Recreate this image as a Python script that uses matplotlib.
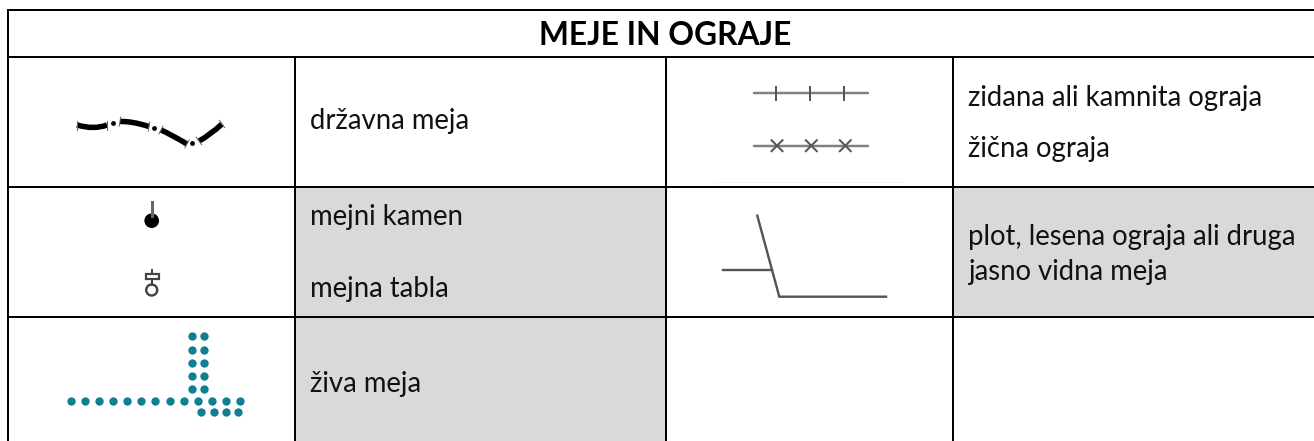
#!/usr/bin/env python3
"""Legend table: MEJE IN OGRAJE."""

import matplotlib

matplotlib.use("Agg")
import matplotlib.pyplot as plt
from matplotlib.patches import Circle, PathPatch, Rectangle
from matplotlib.path import Path
from matplotlib.ticker import NullLocator

WIDTH, HEIGHT = 1314, 441
PX = 0.72  # one pixel in points at dpi 100

TITLE = "MEJE IN OGRAJE"
COL_X = [8, 295, 666, 953, WIDTH]
ROW_Y = [10, 57, 187, 317, HEIGHT]
GREY_CELLS = [(1, 1), (1, 2), (3, 1)]  # column, row below the header

# text, x, baseline y
LABELS = [
    ("državna meja", 310, 129),
    ("zidana ali kamnita ograja", 968, 106),
    ("žična ograja", 968, 157.5),
    ("mejni kamen", 310, 225),
    ("mejna tabla", 310, 297),
    ("plot, lesena ograja ali druga", 968, 244.5),
    ("jasno vidna meja", 968, 280),
    ("živa meja", 310, 392),
]

# drzavna meja
BORDER_SEGMENTS = [
    ([77, 93, 107], [125, 127.5, 125]),
    ([120, 133, 149], [121.5, 122.5, 126.5]),
    ([161, 173, 187], [130, 136, 144]),
    ([199, 210, 222], [141, 134, 124]),
]
BORDER_DOTS_X = [112.7, 154.3, 192.3]
BORDER_DOTS_Y = [122.7, 128, 142.7]

# ograje
WALL_Y = 93.3
WIRE_Y = 145.7
FENCE_X0, FENCE_X1 = 754, 868
WALL_TICKS = [776.3, 810.3, 844.3]
WIRE_CROSSES = [777, 811.3, 845.3]
PLOT_X = [757.3, 779.3, 886]
PLOT_Y = [215.7, 296.7, 296.7]
PLOT_BRANCH_X = [722.7, 771.7]
PLOT_BRANCH_Y = [269.7, 269.7]

# ziva meja
HEDGE_ROW1_X = [71, 85, 99, 113.3, 127.3, 141.3, 155.3, 169.7, 184, 198, 212, 226.3, 240.3]
HEDGE_ROW1_Y = 401
HEDGE_ROW2_X = [201.3, 213.7, 226, 238.3]
HEDGE_ROW2_Y = 412
HEDGE_COL_Y = [336, 349.7, 363, 376.3, 389.3]
HEDGE_COL_X = [191.7, 203.7]

INK = "#111111"
LINE_GREY = "#555555"
TEAL = "#0f7f93"
CELL_GREY = "#d9d9d9"

plt.rcParams["font.family"] = ["Lato", "DejaVu Sans"]

fig = plt.figure(figsize=(WIDTH / 100, HEIGHT / 100), dpi=100)
ax = fig.add_axes([0, 0, 1, 1])
ax.set_xlim(0, WIDTH)
ax.set_ylim(HEIGHT, 0)
ax.xaxis.set_major_locator(NullLocator())
ax.yaxis.set_major_locator(NullLocator())
for spine in ax.spines.values():
    spine.set_visible(False)

# cells and rules, the table runs off the right and bottom of the picture
for col, row in GREY_CELLS:
    ax.add_patch(
        Rectangle(
            (COL_X[col], ROW_Y[row + 1]),
            COL_X[col + 1] - COL_X[col],
            ROW_Y[row + 2] - ROW_Y[row + 1],
            facecolor=CELL_GREY,
            edgecolor="none",
        )
    )
for y in ROW_Y[:-1]:
    ax.plot([COL_X[0], WIDTH], [y, y], color="black", lw=2 * PX, solid_capstyle="projecting")
for i, x in enumerate(COL_X[:-1]):
    top = ROW_Y[0] if i == 0 else ROW_Y[1]
    ax.plot([x, x], [top, HEIGHT], color="black", lw=2 * PX, solid_capstyle="projecting")

# text
ax.text(665.5, 45, TITLE, ha="center", va="baseline", fontsize=22.9, fontweight="bold", color="black")
for text, x, y in LABELS:
    ax.text(x, y, text, ha="left", va="baseline", fontsize=19.8, color=INK)

# border symbol: thick bowed pieces with small flared ends
for xs, ys in BORDER_SEGMENTS:
    ctrl = (2 * xs[1] - (xs[0] + xs[2]) / 2, 2 * ys[1] - (ys[0] + ys[2]) / 2)
    path = Path([(xs[0], ys[0]), ctrl, (xs[2], ys[2])], [Path.MOVETO, Path.CURVE3, Path.CURVE3])
    ax.add_patch(PathPatch(path, facecolor="none", edgecolor="black", lw=5.5 * PX, capstyle="butt"))
    dx, dy = xs[2] - xs[0], ys[2] - ys[0]
    norm = (dx * dx + dy * dy) ** 0.5
    nx, ny = -dy / norm * 4.5, dx / norm * 4.5
    for x, y in ((xs[0], ys[0]), (xs[2], ys[2])):
        ax.plot([x - nx, x + nx], [y - ny, y + ny], color="#666666", lw=1 * PX)
ax.scatter(BORDER_DOTS_X, BORDER_DOTS_Y, s=12, color="black", linewidths=0)

# stone and board
ax.plot([151.7, 151.7], [202.3, 216], color="#666666", lw=3 * PX)
ax.add_patch(Circle((151.7, 220.7), 7.3, facecolor="black", edgecolor="none"))
ax.plot([151.7, 151.7], [270, 273.5], color="#444444", lw=2 * PX)
ax.plot([151.7, 151.7], [279, 284.5], color="#444444", lw=2 * PX)
ax.add_patch(Rectangle((145.5, 273.5), 13.5, 5.5, facecolor="white", edgecolor="#444444", lw=2.2 * PX))
ax.add_patch(Circle((151.7, 290), 5.5, facecolor="white", edgecolor="#444444", lw=2.4 * PX))

# fences
for y in (WALL_Y, WIRE_Y):
    ax.plot([FENCE_X0, FENCE_X1], [y, y], color="#808080", lw=2.5 * PX, solid_capstyle="round")
for x in WALL_TICKS:
    ax.plot([x, x], [WALL_Y - 6.5, WALL_Y + 6.5], color="#555555", lw=2 * PX)
for x in WIRE_CROSSES:
    ax.plot([x - 5.5, x + 5.5], [WIRE_Y - 5.5, WIRE_Y + 5.5], color="#555555", lw=2 * PX)
    ax.plot([x - 5.5, x + 5.5], [WIRE_Y + 5.5, WIRE_Y - 5.5], color="#555555", lw=2 * PX)
ax.plot(PLOT_X, PLOT_Y, color=LINE_GREY, lw=2.4 * PX, solid_joinstyle="miter")
ax.plot(PLOT_BRANCH_X, PLOT_BRANCH_Y, color=LINE_GREY, lw=2.4 * PX)
ax.plot([714, 903], [182, 182], color="#eef4fa", lw=1 * PX)

# hedge
hedge_x = HEDGE_ROW1_X + HEDGE_ROW2_X
hedge_y = [HEDGE_ROW1_Y] * len(HEDGE_ROW1_X) + [HEDGE_ROW2_Y] * len(HEDGE_ROW2_X)
for col_x in HEDGE_COL_X:
    hedge_x = hedge_x + [col_x] * len(HEDGE_COL_Y)
    hedge_y = hedge_y + HEDGE_COL_Y
ax.scatter(hedge_x, hedge_y, s=36, color=TEAL, linewidths=0)

fig.savefig("out.png", dpi=100)
plt.close(fig)
